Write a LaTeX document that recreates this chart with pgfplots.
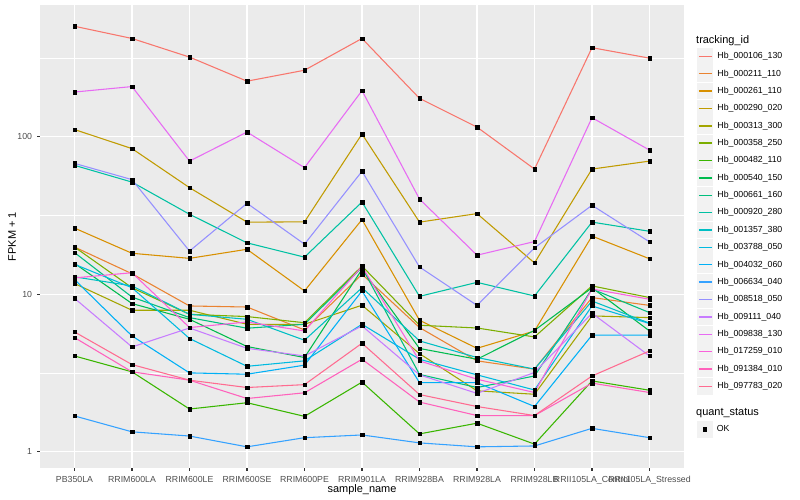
\documentclass[border=0pt]{standalone}
\usepackage{fontspec}
\setmainfont{Liberation Sans}
\usepackage{pgfplots}
\pgfplotsset{compat=1.18}
\usepackage{pgfplotstable}

\definecolor{bggray}{HTML}{EBEBEB}
\definecolor{keygray}{HTML}{F2F2F2}
\definecolor{tickgray}{HTML}{333333}
\definecolor{labgray}{HTML}{4D4D4D}
\definecolor{c1}{HTML}{F8766D}
\definecolor{c2}{HTML}{EA8331}
\definecolor{c3}{HTML}{D89000}
\definecolor{c4}{HTML}{C09B00}
\definecolor{c5}{HTML}{A3A500}
\definecolor{c6}{HTML}{7CAE00}
\definecolor{c7}{HTML}{39B600}
\definecolor{c8}{HTML}{00BB4E}
\definecolor{c9}{HTML}{00BF7D}
\definecolor{c10}{HTML}{00C1A3}
\definecolor{c11}{HTML}{00BFC4}
\definecolor{c12}{HTML}{00BAE0}
\definecolor{c13}{HTML}{00B0F6}
\definecolor{c14}{HTML}{35A2FF}
\definecolor{c15}{HTML}{9590FF}
\definecolor{c16}{HTML}{C77CFF}
\definecolor{c17}{HTML}{E76BF3}
\definecolor{c18}{HTML}{FA62DB}
\definecolor{c19}{HTML}{FF62BC}
\definecolor{c20}{HTML}{FF6C91}

% FPKM + 1 per sample (rows) and gene (columns s1..s20)
\pgfplotstableread{
x  s1   s2    s3   s4   s5   s6    s7   s8   s9   s10  s11  s12  s13  s14   s15  s16  s17  s18  s19  s20
0  502  19.95 26.3 111  11.7 19.95 4.06 15.7 18.4 65.8 12.9 15.5 12.4 1.69  67.7 9.43 192  12.7 5.31 5.77
1  420  13.5  18.2 84   7.92 11.0  3.22 8.73 9.6  51.5 11.3 11.0 5.44 1.34  53.4 4.63 208  13.7 3.22 3.58
2  320  8.43  16.9 47.5 7.92 7.46  1.87 6.94 7.11 32.2 7.46 5.24 3.17 1.26  18.8 6.11 70   6.15 2.85 2.85
3  225  8.3   19.3 28.7 6.45 7.22  2.05 4.66 6.09 21.2 6.94 3.49 3.11 1.076 37.8 4.54 107  6.67 2.18 2.56
4  264  5.94  10.5 28.8 6.45 6.6   1.68 3.97 6.45 17.2 5.11 3.78 3.55 1.23  20.8 4.06 63.6 5.85 2.37 2.67
5  420  13.4  29.8 104  8.52 15.1  2.77 14.4 14.8 38.5 11.0 6.45 10.5 1.28  60.3 6.3  196  15.0 3.87 4.89
6  175  6.15  6.84 28.7 4.2  6.36  1.30 4.53 3.1  9.7  5.06 3.87 2.75 1.14  14.9 3.08 40.2 3.78 2.07 2.31
7  115  3.78  4.54 32.5 2.44 6.11  1.52 3.87 2.56 11.9 3.97 3.08 2.75 1.076 8.5  2.35 17.7 2.89 1.70 1.94
8  62.3 3.35  5.85 15.8 2.32 5.36  1.12 5.9  3.03 9.75 3.35 2.47 1.94 1.09  19.7 3.19 21.6 2.38 1.70 1.70
9  367  9.53  23.4 62.3 7.29 11.3  2.82 11.0 10.8 28.7 9.06 8.43 5.5  1.41  36.7 7.58 132  10.8 2.73 3.03
10 315  8.5   16.8 70   7.11 9.53  2.46 5.85 7.65 25.1 6.55 6.52 5.5  1.23  21.5 4.06 82.2 9.3  2.38 4.37
}\data

\pgfplotsset{
  ggkey/.style={
    legend image code/.code={
      \fill[keygray] (0bp,-7.8bp) rectangle (15.4bp,7.8bp);
      \draw[##1, line width=1.4bp] (1.2bp,0bp) -- (14.2bp,0bp);
    }
  },
  ggpoint/.style={
    legend image code/.code={
      \fill[keygray] (0bp,-7.8bp) rectangle (15.4bp,7.8bp);
      \draw[##1] plot coordinates {(7.7bp,0bp)};
    }
  },
  gglegend/.style={
    draw=none, fill=none, inner sep=0pt, outer sep=0pt,
    row sep=0.7bp, column sep=4bp,
    font=\fontsize{8.8}{10}\selectfont,
    nodes={inner sep=0pt, text height=6.4bp, text depth=1.8bp},
    cells={anchor=west}
  }
}

\begin{document}
\begin{tikzpicture}
\useasboundingbox (0,0) rectangle (800bp,500bp);
\begin{axis}[
  at={(40bp,32bp)}, anchor=south west,
  width=644bp, height=463bp, scale only axis,
  xmin=-0.6, xmax=10.6,
  ymode=log, ymin=0.79, ymax=685,
  axis background/.style={fill=bggray},
  axis line style={draw=none},
  xtick={0,...,10},
  xticklabels={PB350LA,RRIM600LA,RRIM600LE,RRIM600SE,RRIM600PE,RRIM901LA,RRIM928BA,RRIM928LA,RRIM928LB,RRII105LA\_Control,RRII105LA\_Stressed},
  ytick={1,10,100}, yticklabels={1,10,100},
  minor ytick={3.1623,31.623,316.23},
  xmajorgrids, ymajorgrids, yminorgrids,
  major grid style={white, line width=1.07bp},
  minor grid style={white, line width=0.53bp},
  tick align=outside, tick pos=left,
  major tick length=2.75bp, minor tick length=0pt,
  tick style={tickgray, line width=1.07bp},
  ticklabel style={font=\fontsize{8.8}{10}\selectfont, text=labgray},
  xticklabel style={anchor=north, inner sep=0pt, yshift=-5bp},
  yticklabel style={anchor=east, inner sep=0pt, xshift=-5bp},
  xlabel={sample\_name}, ylabel={FPKM + 1},
  label style={font=\fontsize{11}{13}\selectfont},
  xlabel style={at={(axis description cs:0.5,-0.0475)}, anchor=center},
  ylabel style={at={(axis description cs:-0.0435,0.5)}, anchor=center},
  ggkey,
  legend style={gglegend, at={(1.0202,0.9071)}, anchor=north west},
  legend entries={Hb\_000106\_130,Hb\_000211\_110,Hb\_000261\_110,Hb\_000290\_020,Hb\_000313\_300,Hb\_000358\_250,Hb\_000482\_110,Hb\_000540\_150,Hb\_000661\_160,Hb\_000920\_280,Hb\_001357\_380,Hb\_003788\_050,Hb\_004032\_060,Hb\_006634\_040,Hb\_008518\_050,Hb\_009111\_040,Hb\_009838\_130,Hb\_017259\_010,Hb\_091384\_010,Hb\_097783\_020},
]
\pgfplotsinvokeforeach{1,...,20}{
  \addplot[c#1, line width=1.07bp, mark=none] table[x=x, y=s#1]{\data};
}
\pgfplotsinvokeforeach{1,...,20}{
  \addplot[forget plot, only marks, mark=square*, mark size=1.7bp, black] table[x=x, y=s#1]{\data};
}
\end{axis}

\node[anchor=base west, inner sep=0pt, font=\fontsize{11}{13}\selectfont] at (696bp,456bp) {tracking\_id};
\node[anchor=base west, inner sep=0pt, font=\fontsize{11}{13}\selectfont] at (696bp,84bp) {quant\_status};

\begin{axis}[
  at={(697bp,68.8bp)}, anchor=south west,
  width=10bp, height=10bp, scale only axis, hide axis,
  xmin=0, xmax=1, ymin=0, ymax=1,
  ggpoint,
  legend style={gglegend, at={(0,1)}, anchor=north west},
]
\addlegendimage{only marks, mark=square*, mark size=1.7bp, black}
\addlegendentry{OK}
\end{axis}
\end{tikzpicture}
\end{document}
